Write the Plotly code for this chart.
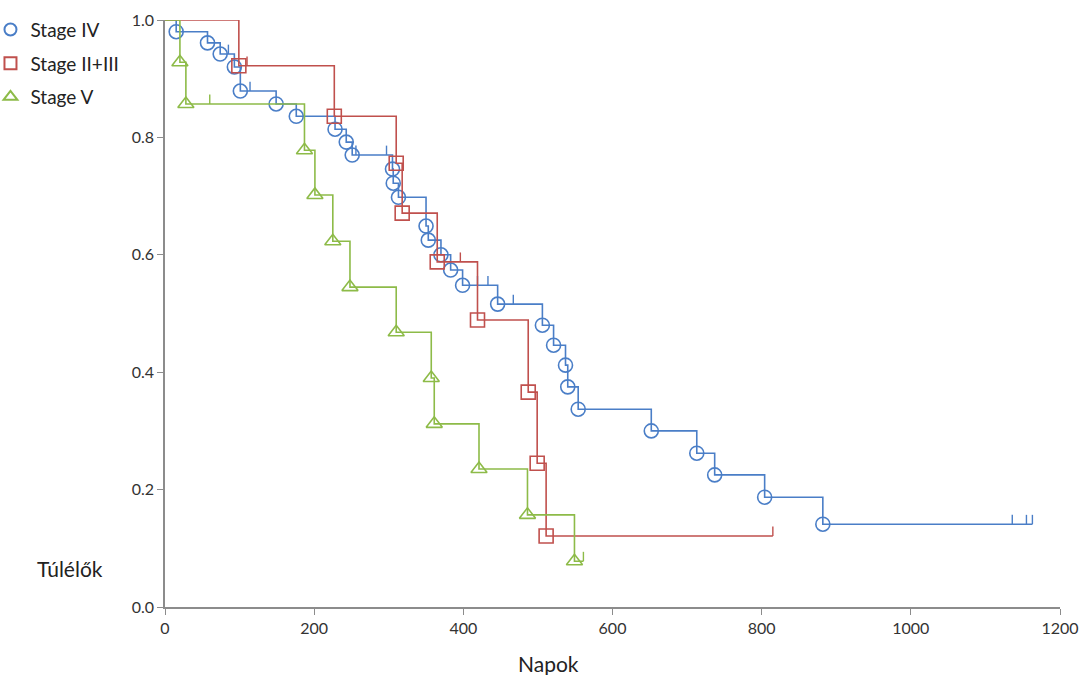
import plotly.graph_objects as go

# ---- data ----
iv_event_t = [15, 57, 74, 93, 101, 149, 176, 228, 243, 251, 305, 306, 313, 350, 353, 370, 383, 399,
              446, 506, 521, 537, 540, 554, 652, 713, 737, 804, 882]
iv_event_s = [0.980, 0.961, 0.942, 0.920, 0.879, 0.857, 0.836, 0.814, 0.792, 0.770, 0.746, 0.722, 0.698,
              0.649, 0.625, 0.600, 0.574, 0.548, 0.516, 0.480, 0.446, 0.412, 0.375, 0.337, 0.300,
              0.262, 0.225, 0.187, 0.141]
iv_cens_t = [85, 114, 256, 297, 419, 433, 467, 1136, 1155, 1163]
iv_cens_s = [0.942, 0.879, 0.770, 0.770, 0.548, 0.548, 0.516, 0.141, 0.141, 0.141]

ii_event_t = [99, 227, 310, 318, 365, 419, 487, 499, 511]
ii_event_s = [0.922, 0.836, 0.756, 0.671, 0.588, 0.489, 0.366, 0.245, 0.121]
ii_cens_t = [110, 396, 815]
ii_cens_s = [0.922, 0.588, 0.121]

v_event_t = [20, 28, 187, 201, 225, 248, 310, 357, 361, 421, 486, 549]
v_event_s = [0.928, 0.857, 0.778, 0.702, 0.623, 0.545, 0.468, 0.390, 0.312, 0.235, 0.157, 0.078]
v_cens_t = [60, 561]
v_cens_s = [0.857, 0.078]

x_ticks = [0, 200, 400, 600, 800, 1000, 1200]
y_ticks = [0.0, 0.2, 0.4, 0.6, 0.8, 1.0]

series = [
    ("Stage IV", iv_event_t, iv_event_s, iv_cens_t, iv_cens_s, "#4A7EC7", "circle-open"),
    ("Stage II+III", ii_event_t, ii_event_s, ii_cens_t, ii_cens_s, "#C0504D", "square-open"),
    ("Stage V", v_event_t, v_event_s, v_cens_t, v_cens_s, "#8DBB48", "triangle-up-open"),
]

FONT = "Lato"
fig = go.Figure()

for name, et, es, ct, cs, col, sym in series:
    # step line
    xs = [0] + et + [max(ct[-1], et[-1])]
    ys = [1.0] + es + [es[-1]]
    fig.add_trace(go.Scatter(x=xs, y=ys, mode="lines", line=dict(color=col, width=1.6, shape="hv"),
                             showlegend=False, hoverinfo="skip", legendgroup=name))
    # censor ticks
    fig.add_trace(go.Scatter(x=ct, y=cs, mode="markers", marker=dict(size=0.1, color=col),
                             error_y=dict(type="data", symmetric=False, array=[0.016] * len(ct),
                                          arrayminus=[0] * len(ct), width=0, thickness=1.4, color=col),
                             showlegend=False, hoverinfo="skip", legendgroup=name))
    # event markers
    fig.add_trace(go.Scatter(x=et, y=es, mode="markers", name=name, legendgroup=name,
                             marker=dict(symbol=sym, size=14, color=col, line=dict(width=1.6, color=col))))

fig.update_layout(
    width=1082, height=675,
    margin=dict(l=165, r=22, t=20, b=68, autoexpand=False),
    paper_bgcolor="white", plot_bgcolor="white",
    font=dict(family=FONT, size=15, color="#333333"),
    legend=dict(x=-0.195, y=1.016, xanchor="left", yanchor="top", bgcolor="rgba(0,0,0,0)",
                font=dict(size=19, color="#222222"), tracegroupgap=6, itemsizing="constant",
                itemwidth=30),
    xaxis=dict(range=[0, 1200], tickvals=x_ticks, showgrid=False, zeroline=False,
               showline=True, linecolor="#8c8c8c", linewidth=1.5, ticks="outside",
               tickcolor="#8c8c8c", ticklen=6, tickfont=dict(size=16)),
    yaxis=dict(range=[0, 1.0], tickvals=y_ticks, tickformat=".1f", showgrid=False, zeroline=False,
               showline=True, linecolor="#8c8c8c", linewidth=1.5, ticks="outside",
               tickcolor="#8c8c8c", ticklen=6, tickfont=dict(size=16)),
    annotations=[
        dict(text="Napok", x=0.428, y=-0.072, xref="paper", yref="paper", xanchor="center",
             yanchor="top", showarrow=False, font=dict(size=21, color="#222222")),
        dict(text="Túlélők", x=-0.106, y=0.065, xref="paper", yref="paper", xanchor="center",
             yanchor="middle", showarrow=False, font=dict(size=21, color="#222222")),
    ],
)

fig.write_html("out.html")
